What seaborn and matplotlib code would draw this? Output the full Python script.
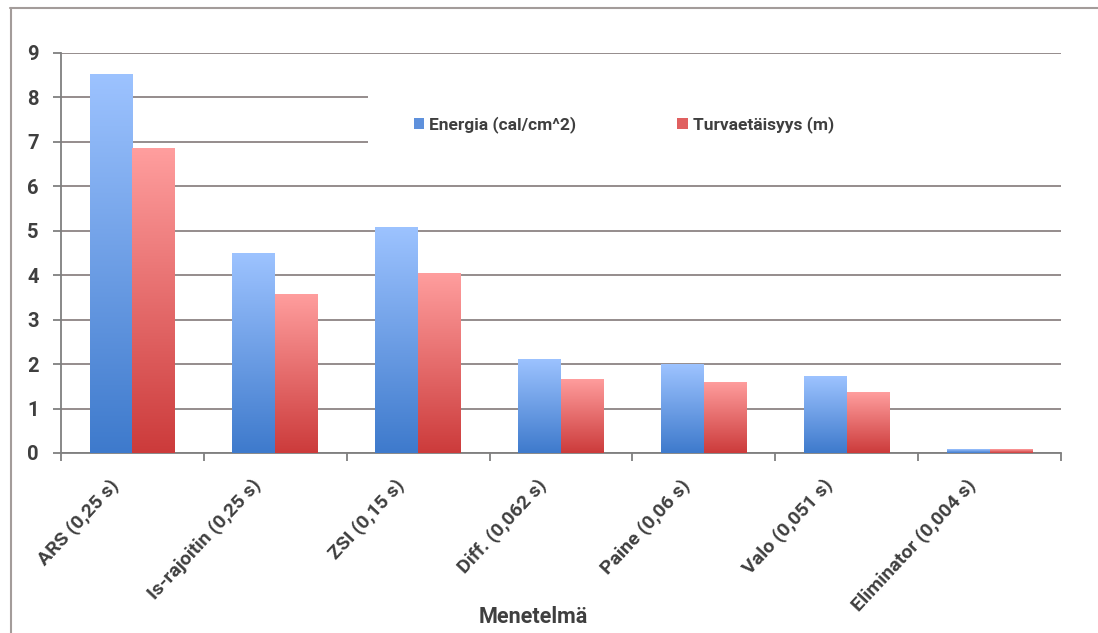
import numpy as np
import pandas as pd
import matplotlib
matplotlib.use("Agg")
import matplotlib.pyplot as plt
import matplotlib.transforms as mtransforms
from matplotlib.patches import Patch, Rectangle
from matplotlib.lines import Line2D
from matplotlib.colors import LinearSegmentedColormap
import seaborn as sns

categories = ["ARS (0,25 s)", "Is-rajoitin (0,25 s)", "ZSI (0,15 s)", "Diff. (0,062 s)",
              "Paine (0,06 s)", "Valo (0,051 s)", "Eliminator (0,004 s)"]
energia = [8.53, 4.50, 5.09, 2.12, 2.00, 1.73, 0.09]
turva = [6.86, 3.58, 4.05, 1.67, 1.60, 1.37, 0.09]
series_names = ["Energia (cal/cm^2)", "Turvaetäisyys (m)"]
y_ticks = [0, 1, 2, 3, 4, 5, 6, 7, 8, 9]
x_label = "Menetelmä"

df = pd.DataFrame({
    "Menetelmä": categories * 2,
    "value": energia + turva,
    "series": [series_names[0]] * len(categories) + [series_names[1]] * len(categories),
})

sns.set_theme(style="white")
plt.rcParams["font.family"] = ["Roboto", "DejaVu Sans"]
text_color = "#3f3f3f"

fig = plt.figure(figsize=(10.98, 6.33), dpi=100)
ax = fig.add_axes([61 / 1098, 1 - 453 / 633, 1000 / 1098, 400 / 633])

blue_mid, red_mid = "#6a9be6", "#e46a6a"
sns.barplot(data=df, x="Menetelmä", y="value", hue="series", palette=[blue_mid, red_mid],
            width=0.6, gap=0, ax=ax, legend=False, saturation=1, zorder=3)

ax.set_xlim(-0.5, len(categories) - 0.5)
ax.set_ylim(0, 9)

grads = {
    blue_mid: LinearSegmentedColormap.from_list("b", ["#3e7acc", "#9dc3ff"]),
    red_mid: LinearSegmentedColormap.from_list("r", ["#cc3b3b", "#ff9e9e"]),
}
grad = np.linspace(0, 1, 256).reshape(-1, 1)
for p in list(ax.patches):
    fc = matplotlib.colors.to_hex(p.get_facecolor())
    cmap = grads[blue_mid] if fc == blue_mid else grads[red_mid]
    x0, y0 = p.get_x(), p.get_y()
    w, h = p.get_width(), p.get_height()
    im = ax.imshow(grad, cmap=cmap, origin="lower", aspect="auto",
                   extent=(x0, x0 + w, y0, y0 + h), zorder=3, interpolation="bilinear")
    im.set_clip_path(p)
    p.set_facecolor("none")
    p.set_edgecolor("none")

ax.set_xlim(-0.5, len(categories) - 0.5)
ax.set_ylim(0, 9)

# grid
ax.set_yticks(y_ticks)
ax.yaxis.grid(True, color="#8c8484", linewidth=1.3, zorder=0)
ax.set_axisbelow(True)
ax.xaxis.grid(False)

# white legend area hiding gridlines
ax.add_patch(Rectangle((0.307, 0.72), 0.693, 0.22, transform=ax.transAxes,
                       facecolor="white", edgecolor="none", zorder=1))

for s in ["top", "right"]:
    ax.spines[s].set_visible(False)
for s in ["left", "bottom"]:
    ax.spines[s].set_color("#7f7f7f")
    ax.spines[s].set_linewidth(1.3)

ax.tick_params(axis="y", which="major", left=True, length=6, width=1.3, color="#7f7f7f",
               labelsize=14.5, labelcolor=text_color, pad=10)
for lab in ax.get_yticklabels():
    lab.set_fontweight("bold")

ax.set_xticks(np.arange(-0.5, len(categories) + 0.5, 1), minor=True)
ax.tick_params(axis="x", which="minor", bottom=True, length=6, width=1.3, color="#7f7f7f")
ax.tick_params(axis="x", which="major", bottom=False, length=0, labelsize=14,
               labelcolor=text_color, pad=21)
ax.set_xticks(range(len(categories)))
ax.set_xticklabels(categories, rotation=47, ha="right", va="center",
                   rotation_mode="anchor", fontweight="bold")
offset = mtransforms.ScaledTranslation(-17 / 100, 0, fig.dpi_scale_trans)
for lab in ax.get_xticklabels():
    lab.set_transform(lab.get_transform() + offset)

ax.set_xlabel("")
ax.set_ylabel("")
fig.text(533 / 1098, 1 - 617 / 633, x_label, ha="center", va="center",
         fontsize=15.5, fontweight="bold", color=text_color)

handles = [Patch(facecolor="#5f91dc", edgecolor="none"),
           Patch(facecolor="#e06060", edgecolor="none")]
leg = ax.legend(handles, series_names, loc="center", bbox_to_anchor=(0.563, 0.82),
                ncol=2, frameon=False, fontsize=12.5, columnspacing=5.8,
                handlelength=0.6, handleheight=0.6, handletextpad=0.3)
for t in leg.get_texts():
    t.set_fontweight("bold")
    t.set_color(text_color)

# outer frame
fig.add_artist(Line2D([10 / 1098, 1.0], [1 - 8 / 633, 1 - 8 / 633], transform=fig.transFigure,
                      color="#a39c9a", linewidth=1.5))
fig.add_artist(Line2D([11 / 1098, 11 / 1098], [0, 1 - 8 / 633], transform=fig.transFigure,
                      color="#a39c9a", linewidth=1.5))

fig.savefig("out.png", dpi=100)
